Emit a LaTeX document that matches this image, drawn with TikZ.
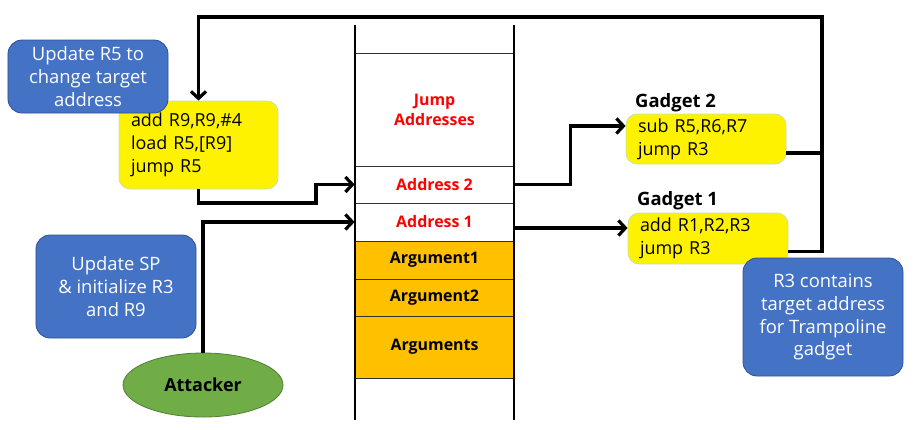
\documentclass[tikz,border=0pt]{standalone}
\usepackage{fontspec}
\setmainfont{Open Sans}
\usetikzlibrary{arrows.meta,shapes.geometric}
\definecolor{bluebox}{HTML}{4472C4}
\definecolor{blueedge}{HTML}{2F528F}
\definecolor{yellowedge}{HTML}{C5E0B4}
\definecolor{argfill}{HTML}{FFC000}
\definecolor{greenfill}{HTML}{70AD47}
\definecolor{greenedge}{HTML}{507E32}
\begin{document}
\begin{tikzpicture}[x=1bp,y=-1bp,
  bluenote/.style={draw=blueedge, line width=0.8bp, fill=bluebox, rounded corners=14bp, text=white, align=center,
    font=\fontsize{18.5}{23}\selectfont, inner sep=0pt, minimum width=160bp},
  codebox/.style={draw=yellowedge, line width=0.8bp, fill=yellow, rounded corners=11bp, align=left,
    font=\fontsize{18}{23}\selectfont, inner xsep=12bp, inner ysep=0pt},
  cell/.style={draw=black!80, line width=0.8bp, minimum width=159bp, inner sep=0pt, align=center,
    font=\bfseries\fontsize{16}{20}\selectfont},
  addrcell/.style={cell, text=red},
  argcell/.style={cell, fill=argfill, text=black},
  glabel/.style={font=\bfseries\fontsize{18.5}{20}\selectfont, anchor=west, inner sep=0pt},
  arr/.style={line width=3.2bp, -{Straight Barb[length=7bp,width=15bp]}},
  wire/.style={line width=3.2bp}
]
\useasboundingbox (0,0) rectangle (918,429);

% stack
\node[addrcell, minimum height=113bp] (jump) at (434.5,109.5) {Jump\\Addresses};
\node[addrcell, minimum height=37bp] (addr2) at (434.5,184.5) {Address 2};
\node[addrcell, minimum height=38bp] (addr1) at (434.5,222) {Address 1};
\node[argcell, minimum height=38bp] (arg1) at (434.5,260) {Argument1};
\node[argcell, minimum height=37bp] (arg2) at (434.5,297.5) {Argument2};
\node[argcell, minimum height=62bp] (args) at (434.5,347) {Arguments};
\draw[line width=1.2bp] (355,25) -- (355,420);
\draw[line width=1.2bp] (514,25) -- (514,420);

% code boxes
\node[codebox, text width=135bp, minimum height=88bp] (code) at (198.5,145) {add R9,R9,\#4\\load R5,[R9]\\jump R5};
\node[codebox, text width=136bp, minimum height=50bp] (g2) at (706,139) {sub R5,R6,R7\\jump R3};
\node[codebox, text width=136bp, minimum height=51bp] (g1) at (708,238.5) {add R1,R2,R3\\jump R3};
\node[glabel] (g2lbl) at (635,103) {Gadget 2};
\node[glabel] (g1lbl) at (637,201) {Gadget 1};

% notes
\node[bluenote, minimum height=73bp] (note1) at (88,76.5) {Update R5 to\\change target\\address};
\node[bluenote, minimum height=103bp] (note2) at (116,286.5) {Update SP\\\& initialize R3\\and R9};
\node[bluenote, minimum height=118bp] (note3) at (823,317) {R3 contains\\target address\\for Trampoline\\gadget};

% attacker
\node[ellipse, draw=greenedge, line width=0.8bp, fill=greenfill, minimum width=160bp, minimum height=64bp,
  font=\bfseries\fontsize{18}{20}\selectfont, inner sep=0pt] (att) at (203,385) {Attacker};

% connectors
\coordinate (lc) at (822,17);
\coordinate (j1) at (316,203);
\draw[arr] (code.south) |- (j1) |- (addr2.west);
\draw[arr] (att.north) |- (addr1.west);
\draw[arr] (addr2.east) -- ++(56,0) |- ([yshift=13bp]g2.west);
\coordinate (g1in) at ([yshift=10.5bp]g1.west);
\draw[arr] (g1in -| addr1.east) -- (g1in);
\coordinate (g2out) at ([yshift=-14bp]g2.east);
\draw[wire] (g2out) -- (g2out -| lc);
\draw[arr] ([yshift=-13bp]g1.east) -| (lc) -| (code.north);
\end{tikzpicture}
\end{document}
